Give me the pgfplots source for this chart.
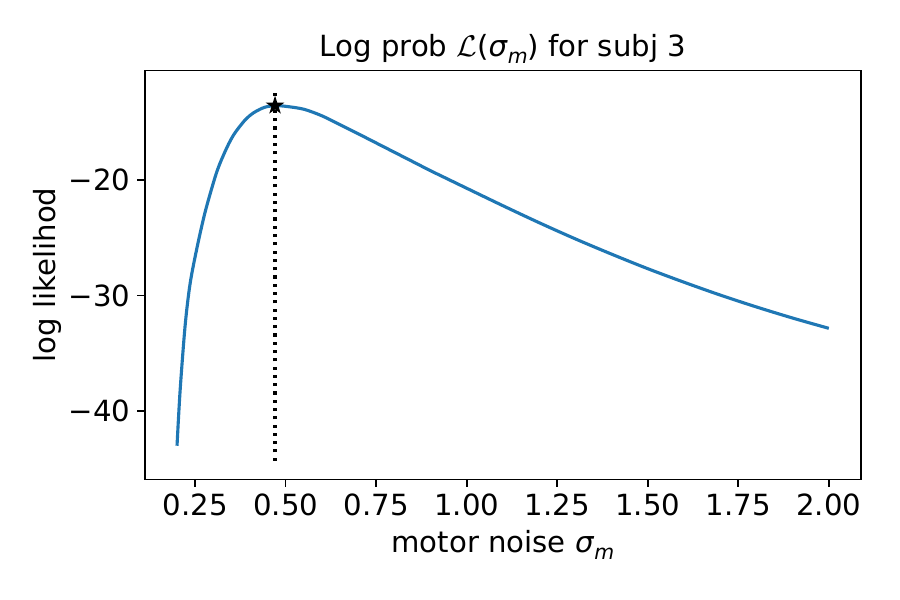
\documentclass[border=0pt]{standalone}
\usepackage{fontspec}
\setmainfont{DejaVu Sans}
\usepackage{pgfplots}
\pgfplotsset{compat=1.18}

\definecolor{tabblue}{HTML}{1F77B4}
\newcommand{\fs}{\fontsize{14bp}{16.8bp}\selectfont}
\newcommand{\sigm}{\textit{σ}\raisebox{-0.22em}{\fontsize{9.8bp}{10bp}\selectfont\itshape m}}

% filled five-pointed star
\pgfdeclareplotmark{fstar}{%
  \pgfpathmoveto{\pgfqpointpolar{90}{\pgfplotmarksize}}%
  \pgfpathlineto{\pgfqpointpolar{126}{0.382\pgfplotmarksize}}%
  \pgfpathlineto{\pgfqpointpolar{162}{\pgfplotmarksize}}%
  \pgfpathlineto{\pgfqpointpolar{198}{0.382\pgfplotmarksize}}%
  \pgfpathlineto{\pgfqpointpolar{234}{\pgfplotmarksize}}%
  \pgfpathlineto{\pgfqpointpolar{270}{0.382\pgfplotmarksize}}%
  \pgfpathlineto{\pgfqpointpolar{306}{\pgfplotmarksize}}%
  \pgfpathlineto{\pgfqpointpolar{342}{0.382\pgfplotmarksize}}%
  \pgfpathlineto{\pgfqpointpolar{18}{\pgfplotmarksize}}%
  \pgfpathlineto{\pgfqpointpolar{54}{0.382\pgfplotmarksize}}%
  \pgfpathclose
  \pgfusepathqfillstroke
}

\begin{document}
\begin{tikzpicture}
\path[use as bounding box] (0,0) rectangle (432bp,288bp);
\begin{axis}[
  at={(69.5bp,57.9bp)}, anchor=south west,
  scale only axis, width=343.8bp, height=196.2bp,
  xmin=0.111, xmax=2.089, ymin=-45.91, ymax=-10.54,
  axis line style={line width=0.8bp},
  tick style={line width=0.8bp, black},
  major tick length=3.5bp,
  tick align=outside,
  xtick pos=bottom, ytick pos=left,
  xtick={0.25,0.5,0.75,1.0,1.25,1.5,1.75,2.0},
  xticklabels={0.25,0.50,0.75,1.00,1.25,1.50,1.75,2.00},
  ytick={-40,-30,-20},
  yticklabels={−40,−30,−20},
  font=\fs,
  ticklabel style={font=\fs},
  title={Log prob $\mathcal{L}$(\sigm) for subj 3},
  title style={at={(axis description cs:0.5,1)}, anchor=base, yshift=0.7bp},
  xlabel={motor noise \sigm},
  xlabel style={at={(axis description cs:0.5,0)}, anchor=base, yshift=-35.3bp},
  ylabel={log likelihod},
  ylabel style={at={(axis description cs:-0.1353,0.5)}, anchor=center},
]
% log likelihood over the motor noise grid
\addplot[tabblue, line width=1.5bp, smooth, tension=0.5] coordinates {
  (0.200,-43.00) (0.2086,-38.20) (0.2224,-32.60) (0.236,-29.00)
  (0.2546,-25.95) (0.2776,-22.78) (0.305,-19.77) (0.320,-18.46)
  (0.342,-16.92) (0.360,-15.93) (0.388,-14.81) (0.410,-14.22)
  (0.434,-13.81) (0.450,-13.65) (0.4707,-13.57) (0.500,-13.63)
  (0.550,-13.88) (0.600,-14.45) (0.650,-15.22) (0.700,-16.00)
  (0.750,-16.80) (0.800,-17.60) (0.850,-18.40) (0.900,-19.20)
  (0.950,-19.96) (1.000,-20.72) (1.100,-22.23) (1.200,-23.70)
  (1.300,-25.10) (1.400,-26.42) (1.500,-27.68) (1.600,-28.85)
  (1.700,-29.96) (1.800,-30.99) (1.900,-31.95) (2.000,-32.84)
};
% best value of the motor noise
\addplot[black, line width=1.5bp, dash pattern=on 1.5bp off 2.475bp]
  coordinates {(0.4707,-44.3) (0.4707,-12.15)};
\addplot[only marks, black, mark=fstar, mark size=3.6bp,
  mark options={line width=0.7bp}] coordinates {(0.4707,-13.57)};
\end{axis}
\end{tikzpicture}
\end{document}
